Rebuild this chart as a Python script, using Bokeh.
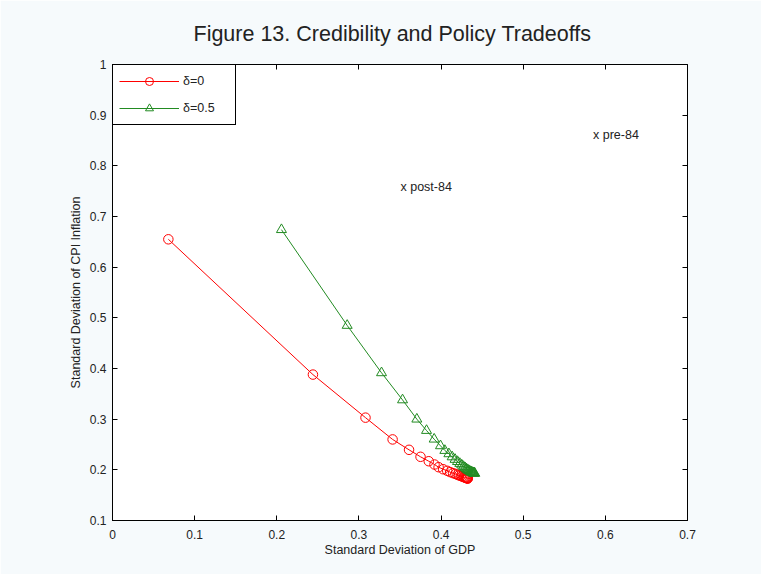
from bokeh.plotting import figure
from bokeh.models import LinearAxis, FixedTicker, Legend, LegendItem, Range1d, ColumnDataSource
from bokeh.core.properties import value
from bokeh.embed import file_html
from bokeh.resources import INLINE

# ---- data ----
x_ticks = [0, 0.1, 0.2, 0.3, 0.4, 0.5, 0.6, 0.7]
x_tick_labels = ["0", "0.1", "0.2", "0.3", "0.4", "0.5", "0.6", "0.7"]
y_ticks = [0.1, 0.2, 0.3, 0.4, 0.5, 0.6, 0.7, 0.8, 0.9, 1.0]
y_tick_labels = ["0.1", "0.2", "0.3", "0.4", "0.5", "0.6", "0.7", "0.8", "0.9", "1"]

red_x = [0.068, 0.244, 0.308, 0.341, 0.361, 0.375, 0.385, 0.392, 0.397, 0.4025,
         0.4075, 0.411, 0.4145, 0.4175, 0.420, 0.422, 0.424, 0.4255, 0.427, 0.428,
         0.429, 0.4298, 0.4305, 0.4311, 0.4316, 0.432, 0.4323, 0.4325]
red_y = [0.655, 0.388, 0.303, 0.260, 0.2395, 0.2257, 0.217, 0.2105, 0.2052, 0.2012,
         0.1981, 0.1955, 0.1935, 0.1918, 0.1903, 0.189, 0.1879, 0.187, 0.1862, 0.1855,
         0.1849, 0.1845, 0.1841, 0.1838, 0.1835, 0.1833, 0.1831, 0.183]

green_x = [0.2057, 0.2857, 0.3275, 0.3531, 0.3705, 0.3823, 0.3916, 0.3993, 0.4046, 0.4095,
           0.4135, 0.417, 0.420, 0.4228, 0.4252, 0.4273, 0.4292, 0.4308, 0.4322, 0.4336,
           0.4349, 0.436, 0.437, 0.4379, 0.4387, 0.4394, 0.44, 0.4405, 0.441]
green_y = [0.674, 0.485, 0.3915, 0.338, 0.300, 0.2776, 0.2605, 0.2474, 0.2381, 0.2316,
           0.2255, 0.2205, 0.2162, 0.2125, 0.2093, 0.2065, 0.2041, 0.202, 0.2002, 0.1987,
           0.1974, 0.1963, 0.1955, 0.1948, 0.1943, 0.1939, 0.1936, 0.1933, 0.193]

series_labels = ["\u03b4=0", "\u03b4=0.5"]

note_text = ["x post-84", "x pre-84"]
note_x = [0.3506, 0.585]
note_y = [0.759, 0.861]

# ---- styling ----
FONT = "Liberation Sans"
TXT = "#222222"
RED = "#ff0000"
GREEN = "#228b22"
BG = "#f6fafc"

p = figure(frame_width=575, frame_height=456,
           min_border_left=112, min_border_right=74, min_border_top=64, min_border_bottom=54,
           x_range=Range1d(0, 0.7), y_range=Range1d(0.1, 1.0),
           output_backend="svg", toolbar_location=None,
           title="Figure 13. Credibility and Policy Tradeoffs")
p.border_fill_color = BG
p.background_fill_color = "white"
p.outline_line_color = "black"
p.outline_line_width = 1
p.outline_line_alpha = 1
p.xgrid.grid_line_color = None
p.ygrid.grid_line_color = None

p.title.text_font = FONT
p.title.text_font_size = "21.5px"
p.title.text_font_style = "normal"
p.title.text_color = TXT
p.title.align = "left"
p.title.offset = 81
p.title.standoff = 38

xa = p.below[0]
ya = p.left[0]
xa.ticker = FixedTicker(ticks=x_ticks)
ya.ticker = FixedTicker(ticks=y_ticks)
xa.major_label_overrides = {t: l for t, l in zip(x_ticks, x_tick_labels)}
ya.major_label_overrides = {t: l for t, l in zip(y_ticks, y_tick_labels)}
for ax in (xa, ya):
    ax.major_tick_in = 5
    ax.major_tick_out = 0
    ax.minor_tick_line_color = None
    ax.axis_line_color = "black"
    ax.major_tick_line_color = "black"
    ax.major_label_text_font = FONT
    ax.major_label_text_font_size = "12px"
    ax.major_label_text_color = TXT
    ax.axis_label_text_font = FONT
    ax.axis_label_text_font_size = "12.5px"
    ax.axis_label_text_font_style = "normal"
    ax.axis_label_text_color = TXT
xa.axis_label = "Standard Deviation of GDP"
ya.axis_label = "Standard Deviation of CPI Inflation"
xa.major_label_standoff = 9
ya.major_label_standoff = 6
xa.axis_label_standoff = 1
ya.axis_label_standoff = 4

for loc, ticks in (("above", x_ticks), ("right", y_ticks)):
    ax = LinearAxis(ticker=FixedTicker(ticks=ticks),
                    major_label_text_color=None, major_label_text_alpha=0,
                    major_label_standoff=0,
                    axis_line_color=None, major_tick_in=5, major_tick_out=0,
                    major_tick_line_color="black", minor_tick_line_color=None)
    p.add_layout(ax, loc)

red_src = ColumnDataSource(dict(x=red_x, y=red_y))
green_src = ColumnDataSource(dict(x=green_x, y=green_y))

rl = p.line("x", "y", source=red_src, line_color=RED, line_width=1)
rs = p.scatter("x", "y", source=red_src, marker="circle", size=9.5,
               line_color=RED, fill_color=None, line_width=1)
gl = p.line("x", "y", source=green_src, line_color=GREEN, line_width=1)
gs = p.scatter("x", "y", source=green_src, marker="triangle", size=10,
               line_color=GREEN, fill_color=None, line_width=1)

note_src = ColumnDataSource(dict(x=note_x, y=note_y, t=note_text))
p.text("x", "y", text="t", source=note_src, text_font=value(FONT),
       text_font_size=value("12.5px"), text_color=TXT,
       text_align="left", text_baseline="middle")

legend = Legend(items=[LegendItem(label=series_labels[0], renderers=[rl, rs]),
                       LegendItem(label=series_labels[1], renderers=[gl, gs])],
                location="top_left", margin=0, padding=6, spacing=7,
                glyph_width=60, glyph_height=20, label_height=20,
                label_standoff=4, label_width=46,
                border_line_color="black", border_line_width=1, border_line_alpha=1,
                background_fill_color="white", background_fill_alpha=1,
                label_text_font=FONT, label_text_font_size="12.5px",
                label_text_color=TXT)
p.add_layout(legend)

html = file_html(p, INLINE)
html = html.replace("<body>", '<body style="background:%s">' % BG, 1)
open("out.html", "w").write(html)
